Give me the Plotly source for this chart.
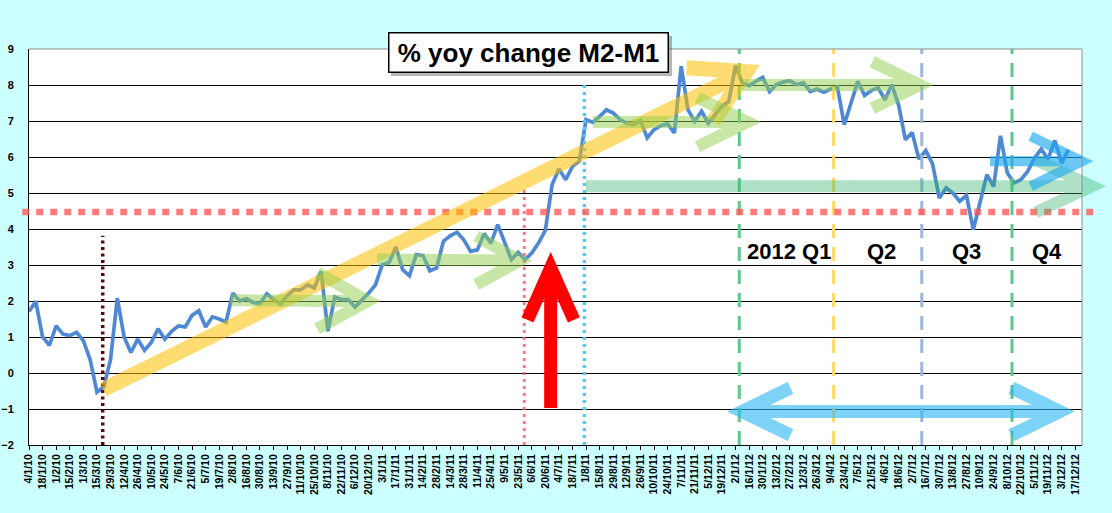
import math
import pandas as pd
import plotly.graph_objects as go

# weekly categories on the x axis (Mondays), labels shown every 2 weeks
weeks = pd.date_range("2010-01-04", periods=156, freq="7D")
categories = [f"{d.day}/{d.month}/{d.year % 100}" for d in weeks]
tick_labels = categories[::2]

# % yoy change M2-M1 (4/1/10 .. 10/12/12)
yoy_m2_m1 = [
    1.71, 1.99, 1.00, 0.77, 1.31, 1.08, 1.04, 1.13, 0.90, 0.37,
    -0.53, -0.39, 0.37, 2.08, 1.00, 0.57, 0.94, 0.63, 0.85, 1.23,
    0.94, 1.16, 1.31, 1.28, 1.60, 1.73, 1.28, 1.56, 1.50, 1.41,
    2.22, 2.00, 2.06, 1.96, 1.93, 2.20, 2.05, 1.91, 2.15, 2.31,
    2.31, 2.45, 2.36, 2.82, 1.16, 2.11, 2.04, 2.04, 1.83, 2.01,
    2.22, 2.45, 3.01, 3.07, 3.50, 2.87, 2.70, 3.29, 3.26, 2.84,
    2.92, 3.66, 3.81, 3.91, 3.70, 3.38, 3.42, 3.87, 3.61, 4.12,
    3.61, 3.15, 3.35, 3.15, 3.33, 3.61, 3.96, 5.23, 5.67, 5.37,
    5.74, 5.88, 7.04, 6.96, 7.13, 7.31, 7.22, 7.04, 6.94, 6.90,
    7.02, 6.53, 6.76, 6.87, 6.92, 6.67, 8.52, 7.31, 6.99, 7.27,
    6.94, 7.18, 7.41, 7.54, 8.54, 8.06, 7.98, 8.10, 8.21, 7.82,
    8.01, 8.08, 8.12, 8.01, 8.06, 7.82, 7.89, 7.80, 7.89, 7.94,
    6.90, 7.50, 8.10, 7.71, 7.85, 7.92, 7.59, 8.01, 7.45, 6.48,
    6.68, 5.94, 6.18, 5.81, 4.86, 5.14, 5.00, 4.77, 4.93, 3.98,
    4.72, 5.51, 5.18, 6.59, 5.56, 5.28, 5.37, 5.60, 5.97, 6.22,
    5.94, 6.46, 5.83, 6.20,
]

quarter_text = ["2012 Q1", "Q2", "Q3", "Q4"]
title_text = "% yoy change M2-M1"

W, H = 1112, 513
ML, MR, MT, MB = 29, 30, 49, 68
PW, PH = W - ML - MR, H - MT - MB
X_LAST = len(categories) - 1
Y_LO, Y_HI = -2, 9


# helpers: (category index, value) -> pixel -> paper fraction
def px(k, v):
    return ML + k / X_LAST * PW, MT + (Y_HI - v) / (Y_HI - Y_LO) * PH


def paper(x, y):
    return (x - ML) / PW, (H - MB - y) / PH


def P(x, y):
    a, b = paper(x, y)
    return f"{a:.5f},{b:.5f}"


def chevron(tx, ty, ux, uy, head, ang):
    ends = []
    for s in (1, -1):
        a = math.radians(ang) * s
        bx, by = -ux, -uy
        rx = bx * math.cos(a) - by * math.sin(a)
        ry = bx * math.sin(a) + by * math.cos(a)
        ends.append((tx + head * rx, ty + head * ry))
    return f"M {P(*ends[0])} L {P(tx, ty)} L {P(*ends[1])}"


def arrow(k0, v0, k1, v1, head, ang, color, width, opacity, both=False):
    x0, y0 = px(k0, v0)
    x1, y1 = px(k1, v1)
    d = math.hypot(x1 - x0, y1 - y0)
    ux, uy = (x1 - x0) / d, (y1 - y0) / d
    path = f"M {P(x0, y0)} L {P(x1, y1)} " + chevron(x1, y1, ux, uy, head, ang)
    if both:
        path += " " + chevron(x0, y0, -ux, -uy, head, ang)
    return dict(type="path", xref="paper", yref="paper", path=path,
                line=dict(color=color, width=width), opacity=opacity, layer="above")


def vline(k, v_top, color, dash, width, v_bot=Y_LO):
    x, _ = paper(*px(k, 0))
    _, y0 = paper(*px(k, v_bot))
    _, y1 = paper(*px(k, v_top))
    return dict(type="line", xref="paper", yref="paper", x0=x, x1=x, y0=y0, y1=y1,
                line=dict(color=color, width=width, dash=dash), layer="above")


fig = go.Figure()
fig.add_trace(go.Scatter(
    x=categories[:len(yoy_m2_m1)], y=yoy_m2_m1, mode="lines",
    line=dict(color="#4F88D5", width=3.7), hoverinfo="x+y", showlegend=False,
))

shapes = []
# dotted / dashed markers
shapes.append(vline(10.85, 3.81, "#5A0A0A", "3px,3.5px", 3.5))
shapes.append(vline(72.9, 5.1, "rgba(255,90,90,0.8)", "3px,4px", 3))
shapes.append(vline(81.76, 8.09, "#5CC8F2", "3px,4px", 3.5))
shapes.append(vline(104.55, Y_HI, "#5CC98A", "14px,9px", 3))
shapes.append(vline(118.44, Y_HI, "#FFD966", "14px,9px", 3))
shapes.append(vline(131.42, Y_HI, "#9DB6DA", "14px,9px", 3))
shapes.append(vline(144.7, Y_HI, "#5CC98A", "14px,9px", 3))
hx0, hy = paper(*px(-1.0, 4.47))
hx1, _ = paper(*px(156.9, 4.47))
shapes.append(dict(type="line", xref="paper", yref="paper", x0=hx0, x1=hx1, y0=hy, y1=hy,
                   line=dict(color="rgba(255,80,80,0.75)", width=6.5, dash="7px,7px"),
                   layer="above"))

# arrows
shapes.append(arrow(10.94, -0.46, 105.6, 8.37, 60, 30, "#FFC000", 15, 0.55))
shapes.append(arrow(29.73, 2.02, 49.9, 2.0, 58, 29, "#92D050", 12, 0.5))
shapes.append(arrow(51.22, 3.15, 72.27, 3.12, 50, 29, "#92D050", 12, 0.5))
shapes.append(arrow(83.0, 6.97, 105.8, 6.97, 56, 26, "#92D050", 12, 0.5))
shapes.append(arrow(104.94, 8.0, 131.15, 8.0, 53, 26, "#92D050", 12, 0.5))
shapes.append(arrow(81.98, 5.19, 156.46, 5.19, 62, 25, "#2DB36A", 12, 0.38))
shapes.append(arrow(141.45, 5.88, 154.99, 5.88, 57, 26, "#1EAAF1", 10, 0.65))
shapes.append(arrow(104.94, -1.07, 151.75, -1.07, 54, 26, "#29B6F6", 13, 0.6, both=True))
shapes.append(arrow(76.79, -0.97, 76.79, 2.92, 57, 24, "#FF0000", 13, 1.0))

# top/right border in grey
shapes.append(dict(type="path", xref="paper", yref="paper", path="M 0,1 L 1,1 L 1,0",
                   line=dict(color="#8C8C8C", width=1), layer="above"))

# title box shadow
sx0, sy0 = paper(391, 36)
sx1, sy1 = paper(672, 76)
shapes.append(dict(type="rect", xref="paper", yref="paper", x0=sx0, x1=sx1, y0=sy0, y1=sy1,
                   fillcolor="rgba(90,90,90,0.45)", line=dict(width=0), layer="above"))

annotations = []
tx, ty = paper(528, 52.5)
annotations.append(dict(
    xref="paper", yref="paper", x=tx, y=ty, xanchor="center", yanchor="middle",
    text=title_text, showarrow=False, bgcolor="white", bordercolor="black",
    borderwidth=1.5, borderpad=3, width=272, height=32,
    font=dict(family="Liberation Sans, Arial", size=26, color="black", weight="bold"),
))
for txt, k in zip(quarter_text, [111.94, 125.5, 138.0, 149.9]):
    ax, ay = paper(*px(k, 3.37))
    annotations.append(dict(
        xref="paper", yref="paper", x=ax, y=ay, xanchor="center", yanchor="middle",
        text=txt, showarrow=False,
        font=dict(family="Liberation Sans, Arial", size=22, color="black", weight="bold"),
    ))

fig.update_layout(
    width=W, height=H, autosize=False,
    margin=dict(l=ML, r=MR, t=MT, b=MB),
    paper_bgcolor="#CCFFFF", plot_bgcolor="white",
    shapes=shapes, annotations=annotations, showlegend=False,
    xaxis=dict(
        type="category", categoryorder="array", categoryarray=categories,
        range=[0, X_LAST], tickmode="array", tickvals=tick_labels, ticktext=tick_labels,
        tickangle=-90, ticks="outside", ticklen=4, tickcolor="black", automargin=False,
        showgrid=False, showline=True, linecolor="black", linewidth=1,
        tickfont=dict(family="Liberation Sans, Arial", size=10.5, color="black", weight="bold"),
    ),
    yaxis=dict(
        range=[Y_LO, Y_HI], tickmode="linear", tick0=-2, dtick=1, automargin=False,
        showgrid=True, gridcolor="black", gridwidth=1, zeroline=False,
        showline=True, linecolor="black", linewidth=1, ticks="",
        ticklabelstandoff=12,
        tickfont=dict(family="Liberation Sans, Arial", size=11, color="black", weight="bold"),
    ),
)

# page body has a default 8px margin; remove it so the figure sits at 0,0
fig.write_html("out.html", config={"displayModeBar": False},
               post_script="document.body.style.margin='0';")
